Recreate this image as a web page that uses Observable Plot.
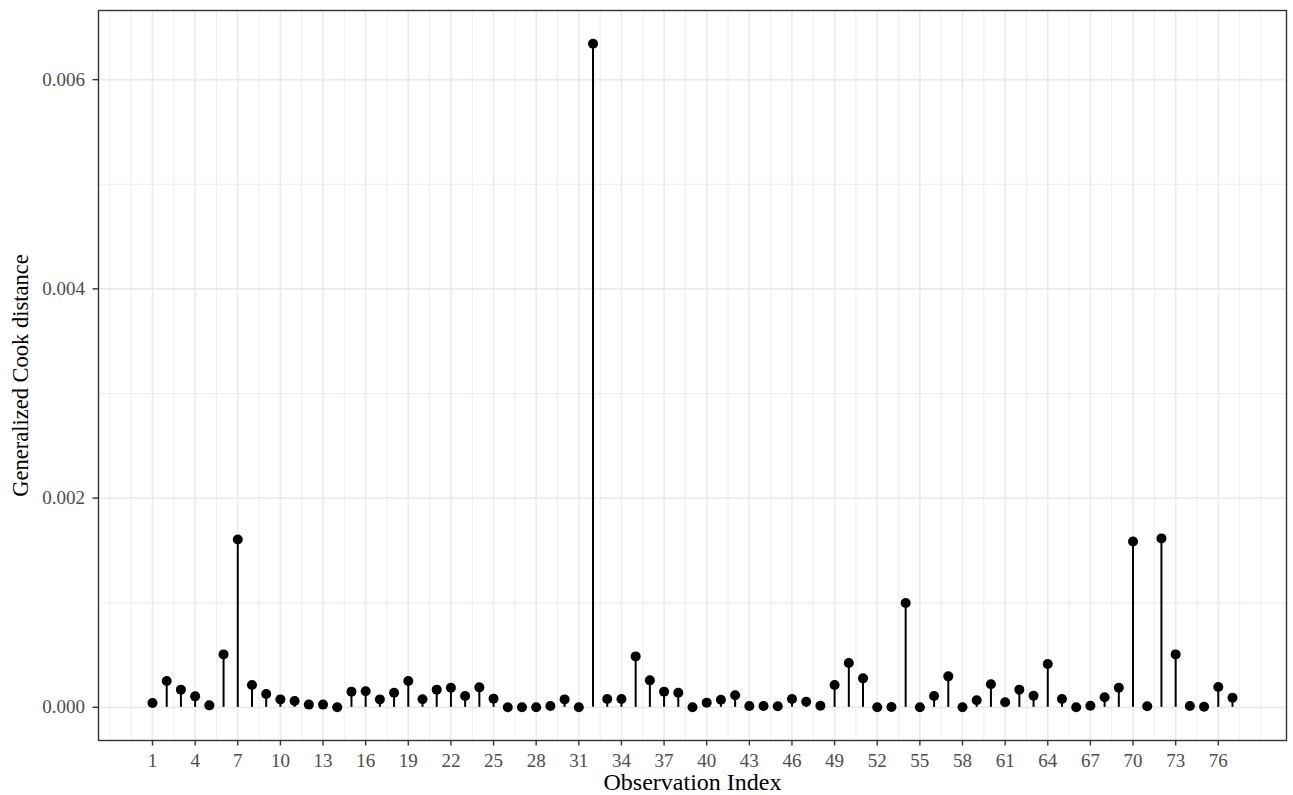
<!DOCTYPE html>
<html><head><meta charset="utf-8">
<script src="https://cdn.jsdelivr.net/npm/d3@7"></script>
<script src="https://cdn.jsdelivr.net/npm/@observablehq/plot@0.6"></script>
<style>body{margin:0;background:#fff} svg{font-family:"Liberation Serif","Times New Roman",serif}</style>
</head><body><div id="chart"></div>
<script>
const obsIndex = [1,2,3,4,5,6,7,8,9,10,11,12,13,14,15,16,17,18,19,20,21,22,23,24,25,26,27,28,29,30,31,32,33,34,35,36,37,38,39,40,41,42,43,44,45,46,47,48,49,50,51,52,53,54,55,56,57,58,59,60,61,62,63,64,65,66,67,68,69,70,71,72,73,74,75,76,77];
const cookDistance = [
  0.000041, 0.000251, 0.000169, 0.000105, 0.000019, 0.000506, 0.001605, 0.000213, 0.000127, 0.000076,
  0.000060, 0.000026, 0.000026, 0.000000, 0.000150, 0.000153, 0.000076, 0.000140, 0.000251, 0.000078,
  0.000169, 0.000188, 0.000108, 0.000191, 0.000083, 0.000000, 0.000000, 0.000000, 0.000013, 0.000076,
  0.000000, 0.006344, 0.000080, 0.000080, 0.000487, 0.000258, 0.000150, 0.000140, 0.000000, 0.000045,
  0.000072, 0.000115, 0.000013, 0.000013, 0.000010, 0.000080, 0.000054, 0.000016, 0.000213, 0.000424,
  0.000277, 0.000000, 0.000003, 0.000997, 0.000000, 0.000108, 0.000296, 0.000000, 0.000067, 0.000220,
  0.000048, 0.000169, 0.000111, 0.000414, 0.000080, 0.000000, 0.000016, 0.000096, 0.000188, 0.001586,
  0.000010, 0.001615, 0.000506, 0.000013, 0.000006, 0.000194, 0.000092
];
const xTicks = [1,4,7,10,13,16,19,22,25,28,31,34,37,40,43,46,49,52,55,58,61,64,67,70,73,76];
const xMinorGrid = [-2,-0.5,2.5,5.5,8.5,11.5,14.5,17.5,20.5,23.5,26.5,29.5,32.5,35.5,38.5,41.5,44.5,47.5,50.5,53.5,56.5,59.5,62.5,65.5,68.5,71.5,74.5,77.5,79];
const yTicks = [0, 0.002, 0.004, 0.006];
const yMinorGrid = [0.001, 0.003, 0.005];
const xLabel = "Observation Index";
const yLabel = "Generalized Cook distance";

const data = obsIndex.map((d, i) => ({index: d, value: cookDistance[i]}));
const font = "Liberation Serif";

const chart = Plot.plot({
  width: 1293, height: 795,
  marginLeft: 98, marginRight: 7, marginTop: 10, marginBottom: 55,
  style: {fontFamily: font, background: "#fff", overflow: "visible"},
  x: {domain: [-2.8, 80.8]},
  y: {domain: [-0.000317, 0.006661]},
  marks: [
    Plot.ruleX(xMinorGrid, {stroke: "#ebebeb", strokeWidth: 0.9}),
    Plot.ruleX(xTicks, {stroke: "#ebebeb", strokeWidth: 1.6}),
    Plot.ruleY(yMinorGrid, {stroke: "#ebebeb", strokeWidth: 0.9}),
    Plot.ruleY(yTicks, {stroke: "#ebebeb", strokeWidth: 1.6}),
    Plot.ruleX(data, {x: "index", y1: 0, y2: "value", stroke: "#000", strokeWidth: 2}),
    Plot.dot(data, {x: "index", y: "value", r: 5, fill: "#000"}),
    Plot.frame({stroke: "#333", strokeWidth: 1.4}),
    Plot.axisX({ticks: xTicks, tickFormat: d3.format("d"), tickSize: 5.5, tickPadding: 7.5, fontSize: 19, fill: "#4d4d4d", stroke: "#333", strokeWidth: 1.4, label: null}),
    Plot.axisY({ticks: yTicks, tickFormat: d3.format(".3f"), tickSize: 5.5, tickPadding: 8, fontSize: 19, fill: "#4d4d4d", stroke: "#333", strokeWidth: 1.4, label: null}),
    Plot.text([xLabel], {text: d => d, frameAnchor: "bottom", lineAnchor: "middle", textAnchor: "middle", dy: 42, fontSize: 24, fill: "#000"}),
    Plot.text([yLabel], {text: d => d, frameAnchor: "left", lineAnchor: "middle", textAnchor: "middle", dx: -78, rotate: -90, fontSize: 22.5, fill: "#000"})
  ]
});
document.getElementById("chart").appendChild(chart);
</script>
</body></html>
